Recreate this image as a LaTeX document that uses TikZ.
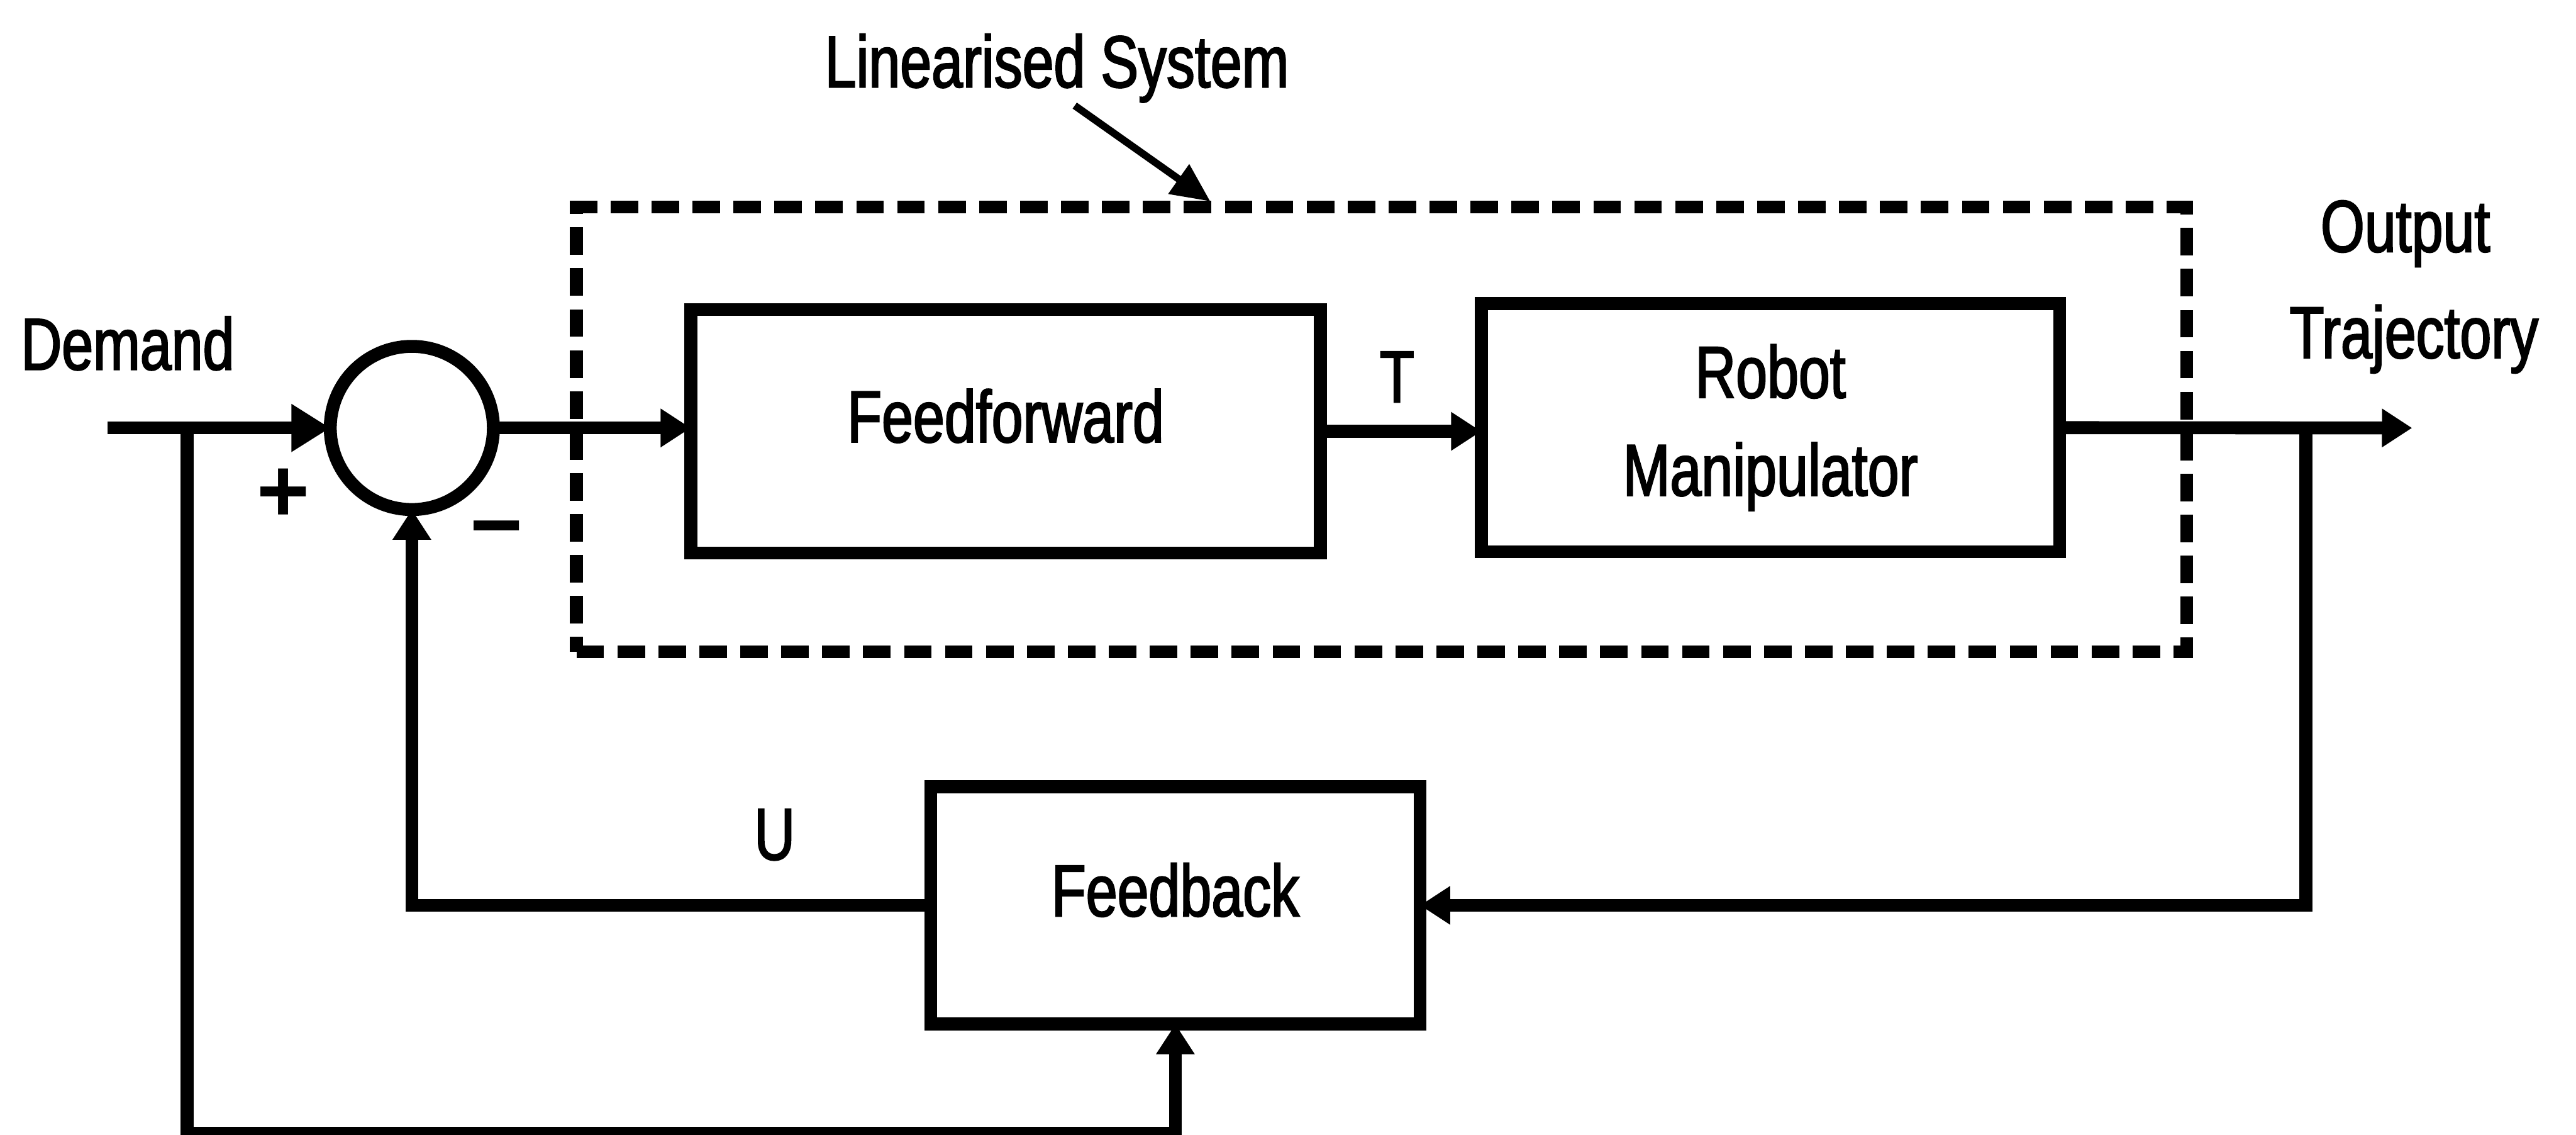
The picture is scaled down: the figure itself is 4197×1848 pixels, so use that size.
\documentclass[tikz,border=0pt]{standalone}
\usepackage{fontspec}
\setmainfont{Liberation Sans}[FakeStretch=0.77, FakeBold=2]
\newfontfamily\signfont{Liberation Sans}
\usetikzlibrary{arrows.meta}

\begin{document}
\begin{tikzpicture}[x=0.005cm, y=-0.005cm,
  line width=3pt,
  every node/.style={inner sep=0pt, outer sep=0pt},
  txt/.style={font=\fontsize{17}{20}\selectfont, anchor=base},
  blk/.style={draw, line width=3pt, rectangle, align=center,
              font=\fontsize{17}{22.7}\selectfont},
  oneline/.style={text height=12pt, text depth=7pt},
  sumc/.style={draw, circle, line width=3pt},
  sysbox/.style={draw, rectangle, line width=3pt, dash pattern=on 6.4pt off 3.1pt},
  arr/.style={-{Triangle[length=7pt, width=8.5pt]}},
  arrbig/.style={-{Triangle[length=9pt, width=10.5pt]}},
  ptr/.style={line width=1.7pt, -{Triangle[length=9pt, width=8pt]}},
  sign/.style={font=\signfont\bfseries\fontsize{21}{24}\selectfont}
]
\useasboundingbox (0,0) rectangle (4197,1848);

% linearised subsystem boundary
\node[sysbox, minimum width=13.13cm, minimum height=3.625cm] (lin) at (2251,699.5) {};

% blocks
\node[blk, oneline, minimum width=5.135cm, minimum height=1.985cm] (ff) at (1638.5,702.5) {Feedforward};
\node[blk, minimum width=4.715cm, minimum height=2.025cm] (rob) at (2884.5,696.5) {Robot\\Manipulator};
\node[blk, oneline, minimum width=3.99cm, minimum height=1.935cm] (fb) at (1915,1474.5) {Feedback};
\node[sumc, minimum size=1.33cm] (sum) at (671,697) {};

% labels
\node[txt] (t-lin) at (1722,142) {Linearised System};
\node[txt] (t-dem) at (208,602) {Demand};
\node[txt] (t-T) at (2276,655) {T};
\node[txt] (t-out1) at (3919,410) {Output};
\node[txt] (t-out2) at (3933,583) {Trajectory};
\node[txt] (t-U) at (1262,1400) {U};
\node[sign] (t-plus) at (462,807) {+};
\node[sign] (t-minus) at (809,877) {−};

% connector end points and branch points
\coordinate (din) at (175,697);
\coordinate (dbr) at (305,697);
\coordinate (dlow) at (305,1846);
\coordinate (fblow) at (fb.south |- dlow);
\coordinate (yout) at (3930,697);
\coordinate (obr) at (3757,697);
\coordinate (pstart) at (1751,172);
\coordinate (ptip) at (1972,328);

% forward path
\draw[arrbig] (din) -- (sum.west);
\draw[arr] (sum.east) -- (sum.east -| ff.west);
\draw[arr] (ff.east) -- (ff.east -| rob.west);
\draw[arr] (rob.east) -- (yout);

% feedback paths
\draw[arr] (obr) |- (fb.east);
\draw[arr] (fb.west) -| (sum.south);
\draw[arr] (dbr) -- (dlow) -- (fblow) -- (fb.south);

% pointer to the subsystem boundary
\draw[ptr] (pstart) -- (ptip);
\end{tikzpicture}
\end{document}
